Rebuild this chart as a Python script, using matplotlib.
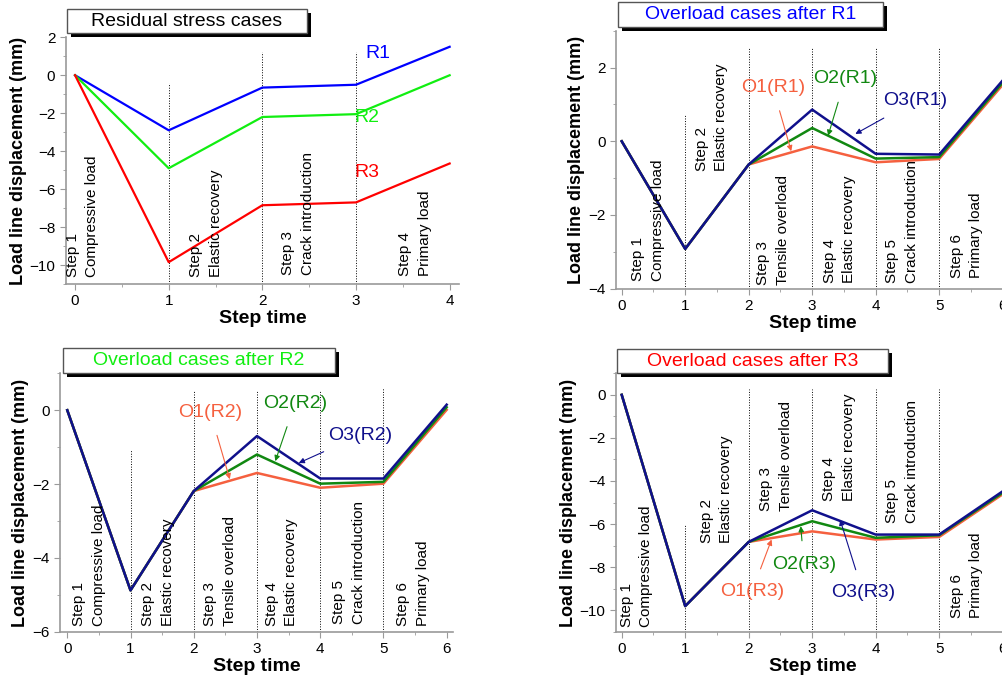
import numpy as np
import matplotlib
matplotlib.use("Agg")
import matplotlib.pyplot as plt
from matplotlib.patches import Rectangle
from matplotlib.ticker import MultipleLocator

plt.rcParams["font.family"] = ["Liberation Sans", "DejaVu Sans"]

# --- data ---
steps4 = [0, 1, 2, 3, 4]
r1 = [0, -2.9, -0.65, -0.5, 1.5]
r2 = [0, -4.9, -2.2, -2.05, 0.0]
r3 = [0, -9.85, -6.85, -6.7, -4.65]

steps6 = [0, 1, 2, 3, 4, 5, 6]
o1_r1 = [0, -2.92, -0.63, -0.14, -0.57, -0.48, 1.53]
o2_r1 = [0, -2.92, -0.63, 0.36, -0.47, -0.43, 1.59]
o3_r1 = [0, -2.92, -0.63, 0.86, -0.34, -0.36, 1.65]

o1_r2 = [0, -4.88, -2.19, -1.70, -2.10, -1.99, 0.01]
o2_r2 = [0, -4.88, -2.19, -1.20, -1.99, -1.94, 0.08]
o3_r2 = [0, -4.88, -2.19, -0.70, -1.85, -1.85, 0.15]

o1_r3 = [0, -9.81, -6.83, -6.34, -6.72, -6.60, -4.62]
o2_r3 = [0, -9.81, -6.83, -5.87, -6.64, -6.52, -4.55]
o3_r3 = [0, -9.81, -6.83, -5.36, -6.49, -6.49, -4.48]

step_names = ["Compressive load", "Elastic recovery", "Tensile overload",
              "Elastic recovery", "Crack introduction", "Primary load"]
step_names4 = ["Compressive load", "Elastic recovery", "Crack introduction",
               "Primary load"]

C_BLUE, C_LIME, C_RED = "#0000FF", "#11EE11", "#FF0000"
C_O1, C_O2, C_O3 = "#F5603F", "#118811", "#10108C"

W, H = 1003, 680
fig = plt.figure(figsize=(W / 100, H / 100), dpi=100)


def make_axes(left, top, right, bottom):
    # pixel box -> figure fraction
    return fig.add_axes([left / W, 1 - bottom / H, (right - left) / W, (bottom - top) / H])


def style(ax, xlim, ylim, ymaj):
    ax.set_xlim(*xlim)
    ax.set_ylim(*ylim)
    for s in ("top", "right"):
        ax.spines[s].set_visible(False)
    for s in ("left", "bottom"):
        ax.spines[s].set_color("#9a9a9a")
        ax.spines[s].set_linewidth(1.2)
    ax.xaxis.set_major_locator(MultipleLocator(1))
    ax.xaxis.set_minor_locator(MultipleLocator(0.5))
    ax.yaxis.set_major_locator(MultipleLocator(ymaj))
    ax.yaxis.set_minor_locator(MultipleLocator(ymaj / 2))
    ax.tick_params(which="both", direction="out", color="#9a9a9a", labelsize=11)
    ax.tick_params(which="major", length=4)
    ax.tick_params(which="minor", length=2.5)
    ax.set_xlabel("Step time", fontsize=14, fontweight="bold", labelpad=1)
    ax.set_ylabel("Load line displacement (mm)", fontsize=13, fontweight="bold", labelpad=2)


def title_box(x0, y0, x1, y1, text, color):
    sh = 4
    fig.add_artist(Rectangle(((x0 + sh) / W, 1 - (y1 + sh) / H), (x1 - x0) / W, (y1 - y0) / H,
                             transform=fig.transFigure, facecolor="black", edgecolor="none", zorder=5))
    fig.add_artist(Rectangle((x0 / W, 1 - y1 / H), (x1 - x0) / W, (y1 - y0) / H,
                             transform=fig.transFigure, facecolor="white", edgecolor="#555555",
                             linewidth=1, zorder=6))
    fig.text((x0 + x1) / 2 / W, 1 - (y0 + y1) / 2 / H, text, color=color, fontsize=14,
             ha="center", va="center", zorder=7)


def step_labels(ax, xs, ys, names):
    for i, (x, y, name) in enumerate(zip(xs, ys, names)):
        ax.text(x, y, f"Step {i + 1}\n{name}", rotation=90, fontsize=11,
                ha="left", va="bottom", linespacing=1.5)


def arrow_label(ax, text, color, xytext, xy):
    ax.annotate(text, xy=xy, xytext=xytext, color=color, fontsize=14,
                ha="center", va="center",
                arrowprops=dict(arrowstyle="-|>", color=color, lw=0.8,
                                mutation_scale=8, shrinkA=9, shrinkB=0))


# --- panel 1: residual stress cases ---
ax1 = make_axes(65.7, 37.3, 459, 284)
style(ax1, (-0.1, 4.1), (-11, 2), 2)
ax1.vlines([1, 2, 3], -11, [-0.4, 1.25, 1.2], colors="black", linestyles=":", lw=0.7)
ax1.plot(steps4, r1, color=C_BLUE, lw=1.6)
ax1.plot(steps4, r2, color=C_LIME, lw=1.6)
ax1.plot(steps4, r3, color=C_RED, lw=1.6)
ax1.text(3.23, 1.15, "R1", color=C_BLUE, fontsize=14, ha="center", va="center")
ax1.text(3.12, -2.2, "R2", color=C_LIME, fontsize=14, ha="center", va="center")
ax1.text(3.12, -5.1, "R3", color=C_RED, fontsize=14, ha="center", va="center")
step_labels(ax1, [-0.1, 1.22, 2.2, 3.45], [-10.65, -10.65, -10.5, -10.6], step_names4)
title_box(67, 9, 307, 33, "Residual stress cases", "black")

# --- panel 2: overload after R1 ---
ax2 = make_axes(616, 30.7, 1009, 288.7)
style(ax2, (-0.09, 6.1), (-4, 3), 2)
ax2.vlines([1, 2, 3, 4, 5], -4, [0.75, 2.55, 2.55, 2.55, 2.55], colors="black", linestyles=":", lw=0.7)
ax2.plot(steps6, o1_r1, color=C_O1, lw=1.8)
ax2.plot(steps6, o2_r1, color=C_O2, lw=1.8)
ax2.plot(steps6, o3_r1, color=C_O3, lw=1.8)
arrow_label(ax2, "O1(R1)", C_O1, (2.38, 1.46), (2.67, -0.27))
arrow_label(ax2, "O2(R1)", C_O2, (3.52, 1.69), (3.25, 0.15))
arrow_label(ax2, "O3(R1)", C_O3, (4.62, 1.1), (3.68, 0.2))
step_labels(ax2, [0.15, 1.15, 2.12, 3.17, 4.15, 5.17], [-3.78, -0.8, -3.9, -3.85, -3.85, -3.7], step_names)
title_box(618, 2, 883, 27, "Overload cases after R1", "#0000FF")

# --- panel 3: overload after R2 ---
ax3 = make_axes(60, 373.3, 453, 631.7)
style(ax3, (-0.115, 6.1), (-6, 1), 2)
ax3.vlines([1, 2, 3, 4, 5], -6, [-1.08, 0.56, 0.56, 0.56, 0.6], colors="black", linestyles=":", lw=0.7)
ax3.plot(steps6, o1_r2, color=C_O1, lw=1.8)
ax3.plot(steps6, o2_r2, color=C_O2, lw=1.8)
ax3.plot(steps6, o3_r2, color=C_O3, lw=1.8)
arrow_label(ax3, "O1(R2)", C_O1, (2.26, -0.05), (2.57, -1.87))
arrow_label(ax3, "O2(R2)", C_O2, (3.6, 0.18), (3.29, -1.38))
arrow_label(ax3, "O3(R2)", C_O3, (4.63, -0.68), (3.66, -1.43))
step_labels(ax3, [0.08, 1.17, 2.15, 3.12, 4.19, 5.2], [-5.85, -5.85, -5.85, -5.85, -5.8, -5.85], step_names)
title_box(63, 348, 335, 373, "Overload cases after R2", "#11EE11")

# --- panel 4: overload after R3 ---
ax4 = make_axes(616, 373.3, 1009, 631.7)
style(ax4, (-0.09, 6.1), (-11, 1), 2)
ax4.vlines([1, 2, 3, 4, 5], -11, [-6.0, 0.25, 0.25, 0.25, 0.25], colors="black", linestyles=":", lw=0.7)
ax4.plot(steps6, o1_r3, color=C_O1, lw=1.8)
ax4.plot(steps6, o2_r3, color=C_O2, lw=1.8)
ax4.plot(steps6, o3_r3, color=C_O3, lw=1.8)
arrow_label(ax4, "O1(R3)", C_O1, (2.05, -9.15), (2.36, -6.72))
arrow_label(ax4, "O2(R3)", C_O2, (2.87, -7.88), (2.82, -6.1))
arrow_label(ax4, "O3(R3)", C_O3, (3.8, -9.2), (3.44, -5.8))
step_labels(ax4, [-0.03, 1.23, 2.17, 3.16, 4.15, 5.17], [-10.8, -6.9, -5.4, -4.95, -5.95, -10.35], step_names)
title_box(617, 349, 888, 373, "Overload cases after R3", "#FF0000")

fig.savefig("out.png", dpi=100)
plt.close(fig)
